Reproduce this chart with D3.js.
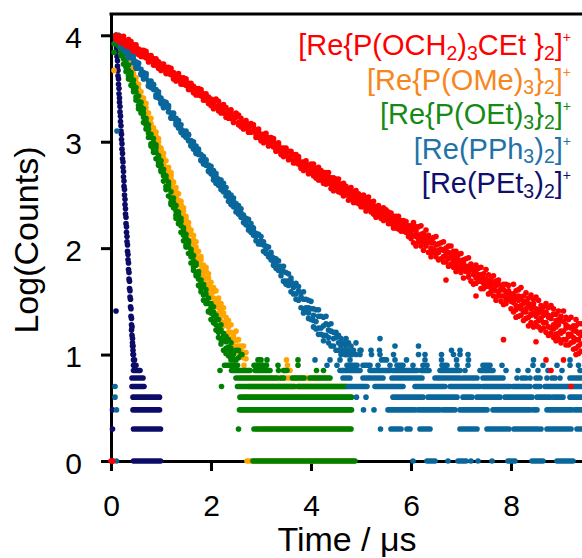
<!DOCTYPE html>
<html lang="en">
  <head>
    <meta charset="UTF-8" />
    <title>Emission decays</title>
    <script src="https://cdn.jsdelivr.net/npm/d3@7"></script>
    <style>
      body { margin: 0; background: #fff; }
      text { font-family: "Liberation Sans", Arial, sans-serif; }
    </style>
  </head>

  <body>
    <div id="chart"></div>

    <script>
      // axis ticks
      var timeTicks = [0, 2, 4, 6, 8];
      var countTicks = [0, 1, 2, 3, 4];

      // decay clouds: [time (us), Log(Counts), Log(Counts), ...]
      var redDecay = [
        [0.00,0],[0.04,0],
        [0.10,4.00,3.98,3.96],[0.15,3.99,3.97,3.95],[0.20,3.95,3.98,3.93],[0.25,3.96,3.93,3.99],[0.30,3.92,3.95,3.90],
        [0.35,3.94,3.90,3.96],[0.40,3.91,3.88,3.94],[0.45,3.87,3.91,3.85],[0.50,3.89,3.85,3.91],[0.55,3.84,3.87,3.82],
        [0.60,3.86,3.83,3.80],[0.65,3.80,3.84,3.86],[0.70,3.83,3.79,3.85],[0.75,3.77,3.81,3.75],[0.80,3.79,3.76,3.81],
        [0.85,3.78,3.74,3.72],[0.90,3.72,3.76,3.78],[0.95,3.75,3.71,3.69],[1.00,3.69,3.73,3.67],[1.05,3.71,3.68,3.73],
        [1.10,3.70,3.66,3.64],[1.15,3.64,3.68,3.70],[1.20,3.66,3.63,3.69],[1.25,3.61,3.65,3.59],[1.30,3.63,3.59,3.57],
        [1.35,3.62,3.58,3.64],[1.40,3.56,3.60,3.54],[1.45,3.58,3.54,3.60],[1.50,3.53,3.57,3.59],[1.55,3.55,3.51,3.49],
        [1.60,3.49,3.53,3.55],[1.65,3.52,3.48,3.46],[1.70,3.50,3.46,3.44],[1.75,3.44,3.48,3.50],[1.80,3.47,3.43,3.49],
        [1.85,3.41,3.45,3.39],[1.90,3.43,3.39,3.45],[1.95,3.42,3.38,3.36],[2.00,3.36,3.40,3.34],
        [2.05,3.39,3.35,3.31],[2.10,3.33,3.39,3.40],[2.15,3.34,3.29,3.38],[2.20,3.32,3.34,3.27],[2.25,3.27,3.31,3.35],
        [2.30,3.32,3.26,3.23],[2.35,3.26,3.29,3.22],[2.40,3.27,3.22,3.30],[2.45,3.19,3.23,3.18],[2.50,3.23,3.25,3.27],
        [2.55,3.18,3.16,3.25],[2.60,3.22,3.17,3.14],[2.65,3.14,3.18,3.12],[2.70,3.18,3.13,3.20],[2.75,3.11,3.15,3.09],
        [2.80,3.15,3.09,3.17],[2.85,3.10,3.14,3.16],[2.90,3.07,3.10,3.04],[2.95,3.10,3.04,3.12],[3.00,3.03,3.07,3.01],
        [3.05,3.07,3.01,2.99],[3.10,3.01,3.04,3.08],[3.15,3.04,2.98,2.96],[3.20,2.97,3.00,3.04],[3.25,3.01,2.95,3.03],
        [3.30,2.93,2.98,2.91],[3.35,2.97,2.92,2.99],[3.40,2.90,2.94,2.88],[3.45,2.94,2.88,2.86],[3.50,2.87,2.91,2.94],
        [3.55,2.91,2.85,2.83],[3.60,2.84,2.87,2.91],[3.65,2.88,2.82,2.80],[3.70,2.80,2.84,2.88],[3.75,2.84,2.79,2.86],
        [3.80,2.77,2.81,2.75],[3.85,2.81,2.75,2.73],[3.90,2.74,2.78,2.82],[3.95,2.78,2.72,2.70],[4.00,2.71,2.76,2.79],
        [4.05,2.75,2.68,2.79,2.72],[4.10,2.68,2.75,2.71,2.66],[4.15,2.76,2.69,2.64,2.73],[4.20,2.64,2.70,2.73,2.67],
        [4.25,2.68,2.61,2.71,2.65],[4.30,2.63,2.71,2.60,2.67],[4.35,2.67,2.61,2.71,2.63],[4.40,2.56,2.63,2.66,2.60],
        [4.45,2.66,2.59,2.54,2.62],[4.50,2.59,2.65,2.55,2.61],[4.55,2.53,2.61,2.65,2.57],[4.60,2.60,2.52,2.57,2.55],
        [4.65,2.54,2.61,2.49,2.57],[4.70,2.56,2.50,2.58,2.52],[4.75,2.45,2.54,2.50,2.55],[4.80,2.57,2.47,2.52,2.50],
        [4.85,2.46,2.53,2.43,2.49],[4.90,2.50,2.43,2.54,2.47],[4.95,2.45,2.51,2.42,2.49],[5.00,2.49,2.39,2.45,2.43],
        [5.05,2.42,2.50,2.39,2.45],[5.10,2.47,2.41,2.35,2.44],[5.15,2.37,2.44,2.48,2.40],[5.20,2.40,2.34,2.43,2.37],
        [5.25,2.32,2.40,2.44,2.36],[5.30,2.39,2.33,2.29,2.37],[5.35,2.35,2.40,2.31,2.33],[5.40,2.28,2.37,2.34,2.31],
        [5.45,2.38,2.30,2.26,2.34],[5.50,2.27,2.33,2.36,2.30],[5.55,2.31,2.23,2.34,2.27],[5.60,2.26,2.33,2.23,2.29],
        [5.65,2.30,2.23,2.19,2.25],[5.70,2.19,2.26,2.30,2.23],[5.75,2.26,2.18,2.30,2.24],[5.80,2.20,2.26,2.16,2.21],
        [5.85,2.26,2.19,2.16,2.22],[5.90,2.15,2.22,2.25,2.18],[5.95,2.18,2.11,2.21,2.16],[6.00,2.13,2.21,2.09,2.17],
        [6.05,2.18,2.05,2.24,2.12],[6.10,2.11,2.20,2.02,2.16],[6.15,2.20,2.06,2.12,2.09],[6.20,2.02,2.13,2.21,2.07],
        [6.25,2.14,2.06,1.98,2.11],[6.30,2.02,2.17,2.09,2.04],[6.35,2.06,1.96,2.12,2.08],[6.40,1.92,2.08,2.00,2.05],
        [6.45,2.10,1.96,2.05,1.99],[6.50,1.97,2.11,1.92,2.03],[6.55,2.04,1.98,1.89,1.96],[6.60,1.90,2.05,1.99,1.99],
        [6.65,2.06,1.92,1.87,1.98],[6.70,1.92,2.00,1.87,1.70,1.96],[6.75,1.96,1.83,2.02,1.90],[6.80,1.85,1.92,2.02,1.94],
        [6.85,1.97,1.82,1.88,1.92],[6.90,1.78,1.92,1.97,1.85],[6.95,1.88,1.81,1.94,1.89],[7.00,1.77,1.95,1.84,1.82],
        [7.05,1.89,1.80,1.72,1.86],[7.10,1.78,1.90,1.83,1.80],[7.15,1.91,1.73,1.83,1.77],[7.20,1.69,1.80,1.85,1.81],
        [7.25,1.81,1.66,1.75,1.79],[7.30,1.72,1.84,1.67,1.55,1.77],[7.35,1.81,1.69,1.75,1.71],[7.40,1.62,1.75,1.82,1.69],
        [7.45,1.72,1.62,1.76,1.67],[7.50,1.64,1.80,1.68,1.71],[7.55,1.75,1.64,1.57,1.69],[7.60,1.59,1.71,1.67,1.63],
        [7.65,1.74,1.55,1.67,1.61],[7.70,1.60,1.69,1.51,1.65],[7.75,1.66,1.55,1.70,1.59],[7.80,1.50,1.61,1.55,1.62],
        [7.85,1.66,1.47,1.61,1.14,1.55],[7.90,1.52,1.66,1.48,1.59],[7.95,1.60,1.52,1.65,1.56],[8.00,1.43,1.57,1.50,1.55],
        [8.05,1.57,1.40,1.66,1.49,1.54],[8.10,1.42,1.60,1.35,1.52,1.46],[8.15,1.61,1.45,1.55,1.36,1.51],
        [8.20,1.46,1.63,1.37,1.54,1.43],[8.25,1.55,1.32,1.48,1.40,1.50],[8.30,1.34,1.50,1.58,1.43,1.40],
        [8.35,1.46,1.35,1.53,1.27,1.48],[8.40,1.37,1.56,1.30,1.43,1.38],[8.45,1.48,1.39,1.26,1.52,1.45],
        [8.50,1.30,1.43,1.54,1.12,1.36],[8.55,1.51,1.32,1.39,1.26,1.42],[8.60,1.34,1.46,1.23,1.42,1.32],
        [8.65,1.45,1.25,1.37,1.30,1.40],[8.70,1.21,1.40,1.48,0.95,1.30],[8.75,1.37,1.26,1.44,1.18,1.35],
        [8.80,1.25,1.46,1.20,0.85,1.34],[8.85,1.38,1.28,1.16,1.43,1.24],[8.90,1.19,1.32,1.38,1.13,1.26],
        [8.95,1.41,1.20,1.28,1.15,1.33],[9.00,1.22,1.36,1.11,1.32,1.20],[9.05,1.31,1.14,1.41,0.95,1.22],
        [9.10,1.14,1.25,1.35,1.09,1.28],[9.15,1.33,1.17,1.09,1.26,1.19],[9.20,1.19,1.35,1.11,0.70,1.25],
        [9.25,1.27,1.05,1.23,1.12,1.16],[9.30,1.06,1.27,1.33,1.14,1.00,1.22],[9.35,1.20,1.08,1.29,1.01,1.14],
        [9.40,1.10,1.29,1.03,1.21,1.18]
      ];

      var orangeDecay = [
        [0.06,3.67],
        [0.15,4.00,3.97],[0.20,3.96,3.90,3.99,3.86],[0.25,3.82,3.88,3.92,3.80],[0.30,3.85,3.75,3.81,3.88],
        [0.35,3.72,3.79,3.69,3.67],[0.40,3.74,3.65,3.69,3.61],[0.45,3.55,3.64,3.60,3.68],[0.50,3.56,3.50,3.60,3.48],
        [0.55,3.45,3.54,3.42,3.50],[0.60,3.47,3.42,3.38,3.35],[0.65,3.31,3.37,3.41,3.29],[0.70,3.32,3.23,3.28,3.36],
        [0.75,3.21,3.27,3.17,3.15],[0.80,3.22,3.14,3.10,3.17],[0.85,3.04,3.13,3.10,3.02],[0.90,3.05,2.99,3.09,2.96],
        [0.95,2.90,2.96,3.00,3.03],[1.00,2.94,2.85,2.92,2.83],[1.05,2.81,2.89,2.79,2.85],[1.10,2.82,2.76,2.71,2.69],
        [1.15,2.66,2.73,2.76,2.63],[1.20,2.65,2.58,2.68,2.71],[1.25,2.52,2.62,2.56,2.50],[1.30,2.57,2.48,2.53,2.44],
        [1.35,2.41,2.45,2.38,2.51],[1.40,2.41,2.33,2.44,2.30],[1.45,2.25,2.35,2.31,2.38],[1.50,2.27,2.23,2.30,2.18],
        [1.55,2.14,2.24,2.12,2.20],[1.60,2.17,2.07,2.13,2.04],[1.65,2.04,2.08,1.98,2.12],[1.70,2.06,1.95,2.01,1.92],
        [1.75,1.87,1.97,1.90,1.85],[1.80,1.89,1.79,1.92,1.84],[1.85,1.73,1.81,1.84,1.77],[1.90,1.79,1.71,1.66,1.82],
        [1.95,1.66,1.76,1.63,1.72],[2.00,1.68,1.56,1.63,1.59],[2.05,1.48,1.59,1.63,1.53],[2.10,1.52,1.45,1.60,1.48],
        [2.15,1.39,1.53,1.44,1.49],[2.20,1.48,1.36,1.31,1.42],[2.25,1.30,1.39,1.44,1.27],[2.30,1.35,1.19,1.28,1.31],
        [2.35,1.21,1.32,1.16,1.26],[2.40,1.28,1.13,1.21,1.11],[2.45,1.08,1.20,1.13,1.17],[2.50,1.22,1.07,1.04,1.13],
        [2.55,1.02,1.14,1.08],[2.60,1.08,0.98,1.04],[2.65,1.08,0.97,1.02],[2.70,1.02,0.96]
      ];

      var greenDecay = [
        [0.06,3.92,3.84],
        [0.10,4.00,3.97],[0.15,3.97,3.90,3.93,3.99],[0.20,3.81,3.88,3.92,3.85],[0.25,3.82,3.73,3.78,3.86],
        [0.30,3.70,3.77,3.66,3.74],[0.35,3.72,3.62,3.67,3.59],[0.40,3.53,3.62,3.58,3.65],[0.45,3.54,3.47,3.58,3.50],
        [0.50,3.42,3.51,3.39,3.47],[0.55,3.43,3.38,3.34,3.31],[0.60,3.27,3.33,3.37,3.30],[0.65,3.27,3.18,3.23,3.31],
        [0.70,3.16,3.22,3.12,3.19],[0.75,3.16,3.08,3.04,3.12],[0.80,2.98,3.07,3.04,2.96],[0.85,2.99,2.93,3.03,2.90],
        [0.90,2.84,2.90,2.94,2.97],[0.95,2.87,2.78,2.85,2.81],[1.00,2.74,2.82,2.72,2.78],[1.05,2.74,2.68,2.63,2.70],
        [1.10,2.58,2.65,2.68,2.55],[1.15,2.56,2.49,2.59,2.62],[1.20,2.43,2.53,2.47,2.41],[1.25,2.47,2.38,2.43,2.40],
        [1.30,2.31,2.35,2.28,2.40],[1.35,2.31,2.23,2.34,2.27],[1.40,2.15,2.25,2.21,2.28],[1.45,2.16,2.12,2.19,2.07],
        [1.50,2.03,2.13,2.01,2.09],[1.55,2.05,1.95,2.01,2.07],[1.60,1.92,1.96,1.86,1.99],[1.65,1.93,1.82,1.88,1.79],
        [1.70,1.74,1.84,1.77,1.86],[1.75,1.75,1.65,1.78,1.71],[1.80,1.59,1.67,1.70,1.62],[1.85,1.64,1.56,1.51,1.66],
        [1.90,1.51,1.61,1.48,1.57],[1.95,1.53,1.41,1.48,1.40],[2.00,1.33,1.44,1.48,1.39],[2.05,1.37,1.30,1.45,1.40],
        [2.10,1.23,1.37,1.28,1.33],[2.15,1.33,1.21,1.16,1.26],[2.20,1.14,1.23,1.28,1.10],[2.25,1.20,1.04,1.13,1.17],
        [2.30,1.06,1.17,1.01,1.12],[2.35,1.14,0.99,1.07,1.02],[2.40,0.97,1.06,1.11,1.03],[2.45,1.00,0.95],
        [2.50,1.04,0.95],[2.55,0.97,1.04],[2.60,1.00]
      ];

      var blueDecay = [
        [0.08,0.70,0.60],[0.11,0.48,0],[0.12,3.10],
        [0.10,4.00,3.98,3.95],[0.15,3.99,3.95,4.00],[0.20,3.90,3.94,3.89],[0.25,3.93,3.89,3.86],[0.30,3.87,3.84,3.91],
        [0.35,3.85,3.81,3.79],[0.40,3.79,3.83,3.84],[0.45,3.78,3.74,3.81],[0.50,3.71,3.75,3.69],[0.55,3.73,3.69,3.74],
        [0.60,3.64,3.68,3.63],[0.65,3.65,3.61,3.59],[0.70,3.60,3.63,3.64],[0.75,3.53,3.57,3.52],[0.80,3.55,3.51,3.57],
        [0.85,3.49,3.53,3.54],[0.90,3.49,3.44,3.42],[0.95,3.41,3.44,3.47],[1.00,3.41,3.37,3.36],[1.05,3.33,3.38,3.32],
        [1.10,3.36,3.33,3.37],[1.15,3.28,3.32,3.34],[1.20,3.27,3.23,3.22],[1.25,3.22,3.26,3.27],[1.30,3.22,3.18,3.16],
        [1.35,3.13,3.17,3.20],[1.40,3.16,3.12,3.09],[1.45,3.10,3.07,3.06],[1.50,3.08,3.04,3.10],[1.55,3.01,3.06,3.07],
        [1.60,3.01,2.97,2.96],[1.65,2.93,2.97,3.00],[1.70,2.96,2.91,2.89],[1.75,2.88,2.91,2.93],[1.80,2.88,2.83,2.82],
        [1.85,2.81,2.86,2.79],[1.90,2.82,2.78,2.83],[1.95,2.73,2.78,2.72],[2.00,2.74,2.70,2.77],
        [2.05,2.73,2.67,2.64],[2.10,2.61,2.67,2.70],[2.15,2.65,2.59,2.62],[2.20,2.58,2.64,2.55],[2.25,2.61,2.53,2.57],
        [2.30,2.49,2.53,2.57],[2.35,2.52,2.44,2.48],[2.40,2.44,2.50,2.41],[2.45,2.44,2.39,2.47],[2.50,2.34,2.42,2.38],
        [2.55,2.40,2.35,2.32],[2.60,2.29,2.37,2.33],[2.65,2.31,2.24,2.28],[2.70,2.22,2.28,2.25],[2.75,2.27,2.20,2.17],
        [2.80,2.18,2.23,2.15],[2.85,2.19,2.12,2.16],[2.90,2.07,2.14,2.11],[2.95,2.13,2.06,2.04],[3.00,2.04,2.11,2.07],
        [3.05,2.03,1.97,2.06],[3.10,1.95,2.02,1.99],[3.15,2.01,1.94,1.92],[3.20,1.89,1.96,1.93],[3.25,1.91,1.84,1.88],
        [3.30,1.81,1.87,1.90],
        [3.35,1.88,1.79,1.83],[3.40,1.74,1.83,1.78],[3.45,1.78,1.69,1.83],[3.50,1.69,1.77,1.66],[3.55,1.76,1.69,1.65],
        [3.60,1.59,1.69,1.72],[3.65,1.66,1.57,1.63],[3.70,1.57,1.67,1.52],[3.75,1.60,1.51,1.64],[3.80,1.44,1.54,1.58],
        [3.85,1.52,1.43,1.59,1.39],[3.90,1.41,1.52,1.44],[3.95,1.51,1.34,1.44,1.39],[4.00,1.33,1.43,1.50],
        [4.05,1.37,1.26,1.43,1.32],[4.10,1.24,1.42,1.31],[4.15,1.36,1.25,1.42,1.19],[4.20,1.25,1.36,1.19],
        [4.25,1.35,1.18,1.27,1.13],[4.30,1.18,1.29,1.36],[4.35,1.23,1.11,1.28,1.16],[4.40,1.08,1.22,1.29],
        [4.45,1.21,1.08,1.15],[4.50,1.04,1.21,1.16],[4.55,1.18,1.04,1.11],[4.60,1.00,1.15,1.08],[4.65,1.11,1.04],
        [4.70,1.00,1.08,1.15],[4.75,1.04,1.11],[4.80,1.00,1.08],[4.85,1.04],[4.90,1.11,1.00],[5.00,1.04]
      ];

      var navyDecay = [
        [0.03,0.48,0.30,0],[0.10,4.00,3.96,1.41],[0.11,3.93,3.88],[0.12,3.85,3.80],[0.13,3.76,3.71],
        [0.14,3.67,3.62],[0.15,3.59,3.54],[0.16,3.50,3.45],[0.17,3.41,3.37],[0.18,3.33,3.28],[0.19,3.24,3.19],
        [0.20,3.15,3.10],[0.21,3.07,3.02],[0.22,2.98,2.93],[0.23,2.89,2.84],[0.24,2.81,2.76],[0.25,2.72,2.67],
        [0.26,2.63,2.58],[0.27,2.55,2.50],[0.28,2.46,2.41],[0.29,2.37,2.32],[0.30,2.29,2.23],[0.31,2.20,2.15],
        [0.32,2.11,2.06],[0.33,2.03,1.97],[0.34,1.94,1.89],[0.35,1.86,1.80],[0.36,1.77,1.71],[0.37,1.69,1.62],
        [0.38,1.60,1.54],[0.39,1.52,1.45],[0.40,1.43,1.36],[0.41,1.34,1.28,1.23],[0.42,1.26,1.18],
        [0.43,1.15,1.08,1.11],[0.44,1.08,1.00,1.04],[0.45,1.00,0.95,0.90],[0.47,0.95,0.90],[0.50,0.90]
      ];

      // background floor: [Log(Counts) level, from time, to time] (one time = single point)
      var navyFloor = [
        [0.85,0.45,0.58],[0.78,0.42,0.64],[0.70,0.42,0.66],[0.60,0.44,0.97],
        [0.48,0.44,0.97],[0.30,0.45,0.99],[0,0.45,0.99]
      ];
      var orangeFloor = [
        [0,2.72,4.86],[0.30,2.92],[0.30,3.00,4.78],[0.48,2.62,4.78],[0.60,2.64,4.78],[0.70,2.76,4.70],
        [0.78,2.60,4.36],[0.85,3.58],[0.90,3.53],[0.95,3.51],[0.78,3.68],[0.78,4.03],[0.90,2.66]
      ];
      var greenFloor = [
        [0,2.84,4.88],[0.30,2.55],[0.30,2.86,4.80],[0.48,2.57,4.81],[0.60,2.58,4.81],
        [0.70,2.21],[0.70,2.53,3.67],[0.70,3.74,4.72],
        [0.78,2.50,3.32],[0.78,3.40,3.45],[0.78,3.63,3.86],[0.78,3.98,4.38],
        [0.85,2.18],[0.85,2.41,2.78],[0.85,2.88,3.18],[0.85,3.35],[0.85,3.45,3.52],[0.85,4.11],[0.85,4.25],
        [0.90,2.27,2.53],[0.90,2.86,3.06],[0.90,3.11],[0.90,3.34],[0.90,3.74],
        [0.95,2.40],[0.95,2.94,3.00],[0.95,3.12],[0.95,3.74],[1.00,2.62]
      ];
      var blueFloor = [
        [0,6.04],[0,6.32,6.48],[0,6.74],[0,6.94,7.10],[0,7.20],[0,7.34],[0,7.62],[0,7.94,8.08],[0,8.42,8.64],[0,8.92,9.24],
        [0.30,5.39],[0.30,5.60,5.80],[0.30,5.92,5.98],[0.30,6.18,6.38],[0.30,6.98,7.32],[0.30,7.52,7.96],
        [0.30,8.06,8.54],[0.30,8.60],[0.30,8.72,9.20],[0.30,9.32,9.42],
        [0.48,5.05],[0.48,5.26],[0.48,5.54,6.08],[0.48,6.14,6.58],[0.48,6.64,6.88],[0.48,6.98,7.52],
        [0.48,7.64,8.38],[0.48,8.44,8.52],[0.48,8.72,9.22],[0.48,9.28,9.42],
        [0.60,4.91],[0.60,5.10],[0.60,5.64,6.24],[0.60,6.34,6.92],[0.60,7.04,7.22],[0.60,7.32,7.78],
        [0.60,7.88,8.42],[0.60,8.52,8.78],[0.60,8.84,9.04],[0.60,9.18,9.42],
        [0.70,4.74,5.12],[0.70,5.28,5.84],[0.70,6.08,6.68],[0.70,6.78,7.38],[0.70,7.44,7.98],[0.70,8.04,8.38],
        [0.70,8.48,8.58],[0.70,8.68,9.42],
        [0.78,4.64,4.78],[0.78,5.04,5.44],[0.78,5.62,6.22],[0.78,6.48,6.98],[0.78,7.04,7.32],[0.78,7.44,7.84],
        [0.78,8.12],[0.78,8.22,8.30],[0.78,8.38],[0.78,8.50,8.58],[0.78,8.72],[0.78,8.82,8.88],[0.78,8.98],[0.78,9.18,9.42],
        [0.85,4.58,4.98],[0.85,5.18,5.58],[0.85,5.64,6.12],[0.85,6.20,6.36],[0.85,6.58,6.98],[0.85,7.08],
        [0.85,7.38,7.64],[0.85,7.90],[0.85,8.14],[0.85,8.34],[0.85,8.54],[0.85,8.74],[0.85,9.02],[0.85,9.38],
        [0.90,4.32],[0.90,4.52],[0.90,4.72,4.92],[0.90,5.04,5.18],[0.90,5.34],[0.90,5.58],[0.90,5.72,5.84],
        [0.90,6.04],[0.90,6.24],[0.90,6.32],[0.90,6.62,6.72],[0.90,6.92],[0.90,7.14],[0.90,7.44,7.58],
        [0.90,7.82],[0.90,8.44],[0.90,8.64],[0.90,8.92],[0.90,9.18],[0.90,9.35],
        [0.95,4.08],[0.95,4.38],[0.95,4.58],[0.95,4.78],[0.95,5.41,5.51],[0.95,5.68],[0.95,5.91],[0.95,6.28],
        [0.95,6.61],[0.95,6.91],[0.95,7.15],[0.95,8.45],[0.95,9.18],
        [1.00,4.68,4.82],[1.00,4.98],[1.00,5.21],[1.00,5.38],[1.00,5.65],[1.00,6.15],[1.00,6.28],[1.00,6.61],
        [1.00,6.85],[1.00,6.98],[1.00,7.14],
        [1.04,4.98],[1.04,5.20],[1.04,5.37],[1.04,6.81],[1.04,6.98],[1.08,5.68],[1.08,6.15],[1.15,5.38]
      ];
      var redFloor = [];

      // legend rows: [text, kind]
      var legendRows = [
        [["[Re{P(OCH"],["2","sub"],[")"],["3","sub"],["CEt }"],["2","sub"],["]"],["+","sup"]],
        [["[Re{P(OMe)"],["3","sub"],["}"],["2","sub"],["]"],["+","sup"]],
        [["[Re{P(OEt)"],["3","sub"],["}"],["2","sub"],["]"],["+","sup"]],
        [["[Re(PPh"],["3","sub"],[")"],["2","sub"],["]"],["+","sup"]],
        [["[Re(PEt"],["3","sub"],[")"],["2","sub"],["]"],["+","sup"]]
      ];
      var legendColors = ["#ff0000", "#f7861c", "#168a16", "#1f73a6", "#0f0f6e"];

      var width = 582;
      var height = 558;
      var dotR = 2.8;

      var svg = d3.select("#chart")
                  .append("svg")
                  .attr("width", width)
                  .attr("height", height);

      var xScale = d3.scaleLinear().domain([0, 9.42]).range([111, 582]);
      var yScale = d3.scaleLinear().domain([0, 4.2]).range([461, 14]);

      // axes
      var xAxis = svg.append("g")
                     .attr("transform", "translate(0,461)")
                     .call(d3.axisBottom(xScale).tickValues(timeTicks).tickFormat(d3.format("d"))
                             .tickSize(10).tickSizeOuter(0).tickPadding(24));
      var yAxis = svg.append("g")
                     .attr("transform", "translate(111,0)")
                     .call(d3.axisLeft(yScale).tickValues(countTicks).tickFormat(d3.format("d"))
                             .tickSize(10).tickSizeOuter(0).tickPadding(19));
      [xAxis, yAxis].forEach(function(g){
        g.attr("font-size", 30).attr("font-family", "Liberation Sans, Arial, sans-serif");
        g.selectAll("path, line").attr("stroke", "#000").attr("stroke-width", 3);
        g.selectAll("text").attr("fill", "#000");
      });
      yAxis.selectAll("text").attr("dy", "0.4em");

      // top frame line
      svg.append("line")
         .attr("x1", 109.5).attr("x2", width)
         .attr("y1", yScale(4.2)).attr("y2", yScale(4.2))
         .attr("stroke", "#000").attr("stroke-width", 3);

      function drawSeries(decay, floor, color){
        var g = svg.append("g").attr("fill", color);
        var runs = floor.filter(function(d){ return d.length > 2 && d[2] > d[1]; });
        var singles = floor.filter(function(d){ return !(d.length > 2 && d[2] > d[1]); });
        g.selectAll("line")
         .data(runs)
         .enter()
         .append("line")
         .attr("x1", function(d){ return xScale(d[1]); })
         .attr("x2", function(d){ return xScale(d[2]); })
         .attr("y1", function(d){ return yScale(d[0]); })
         .attr("y2", function(d){ return yScale(d[0]); })
         .attr("stroke", color)
         .attr("stroke-width", dotR * 2)
         .attr("stroke-linecap", "round");
        var pts = [];
        decay.forEach(function(c){
          c.slice(1).forEach(function(v){ pts.push([c[0], v]); });
        });
        singles.forEach(function(d){ pts.push([d[1], d[0]]); });
        g.selectAll("circle")
         .data(pts)
         .enter()
         .append("circle")
         .attr("cx", function(d){ return xScale(d[0]); })
         .attr("cy", function(d){ return yScale(d[1]); })
         .attr("r", dotR);
      }

      drawSeries(navyDecay, navyFloor, "#0c0c68");
      drawSeries(orangeDecay, orangeFloor, "#ffa500");
      drawSeries(greenDecay, greenFloor, "#008000");
      drawSeries(blueDecay, blueFloor, "#0a679c");
      drawSeries(redDecay, redFloor, "#ff0000");

      // legend
      legendRows.forEach(function(row, i){
        var t = svg.append("text")
                   .attr("x", 571)
                   .attr("y", 55 + i * 34.5)
                   .attr("text-anchor", "end")
                   .attr("font-size", 29)
                   .attr("fill", legendColors[i]);
        var shift = 0;
        row.forEach(function(p){
          var target = p[1] == "sub" ? 4.5 : (p[1] == "sup" ? -13 : 0);
          t.append("tspan")
           .attr("dy", target - shift)
           .attr("font-size", p[1] == "sub" ? 19.5 : (p[1] == "sup" ? 14 : 29))
           .text(p[0]);
          shift = target;
        });
      });

      // axis titles
      svg.append("text")
         .attr("x", 347)
         .attr("y", 551)
         .attr("text-anchor", "middle")
         .attr("font-size", 34)
         .text("Time / μs");
      svg.append("text")
         .attr("transform", "translate(38,240) rotate(-90)")
         .attr("text-anchor", "middle")
         .attr("font-size", 34)
         .text("Log(Counts)");
    </script>
  </body>
</html>
